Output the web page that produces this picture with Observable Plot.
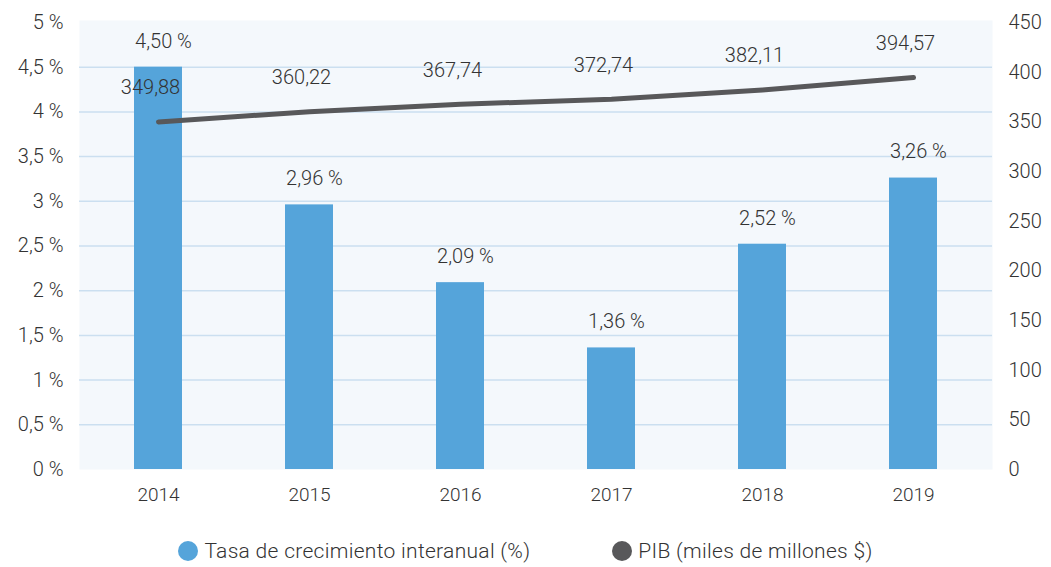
<!DOCTYPE html>
<html>
<head>
<meta charset="utf-8">
<script src="https://cdn.jsdelivr.net/npm/d3@7"></script>
<script src="https://cdn.jsdelivr.net/npm/@observablehq/plot@0.6"></script>
<style>
  body { margin: 0; background: #fff; font-family: Roboto, sans-serif; }
  #wrap { position: relative; width: 1051px; height: 520px; }
  #wrap svg { position: absolute; left: 0; top: 0; }
  #legend { width: 1051px; height: 47px; display: flex; justify-content: center; align-items: center; gap: 0; padding-top: 15px; box-sizing: border-box; font-size: 21px; letter-spacing: 0.3px; font-weight: 300; color: #333; }
  .item { display: flex; align-items: center; }
  .dot { width: 20px; height: 20px; border-radius: 50%; margin-right: 6px; }
</style>
</head>
<body>
<div id="wrap"></div>
<div id="legend"></div>
<script>
const years = ["2014", "2015", "2016", "2017", "2018", "2019"];
const growth = [4.50, 2.96, 2.09, 1.36, 2.52, 3.26];
const pib = [349.88, 360.22, 367.74, 372.74, 382.11, 394.57];
const leftTicks = [0, 0.5, 1, 1.5, 2, 2.5, 3, 3.5, 4, 4.5, 5];
const rightTicks = [0, 50, 100, 150, 200, 250, 300, 350, 400, 450];
const seriesNames = ["Tasa de crecimiento interanual (%)", "PIB (miles de millones $)"];
const colors = ["#55a4da", "#58585a"];

const rows = years.map((y, i) => ({year: y, growth: growth[i], pib: pib[i]}));
const fmtPct = d => d.toFixed(2).replace(".", ",") + " %";
const fmtTick = d => String(d).replace(".", ",") + " %";
const fmtPib = d => d.toFixed(2).replace(".", ",");

const W = 1051, H = 520;
const xScale = {domain: years, paddingInner: 0.68, paddingOuter: 0.34, insetLeft: 2, insetRight: 2};
const common = {
  width: W, height: H,
  marginLeft: 79, marginRight: 59, marginTop: 22, marginBottom: 51,
  style: {fontFamily: "Roboto, sans-serif", fontSize: "19px", fontWeight: 300, color: "#333", background: "transparent"}
};

const p1 = Plot.plot({
  ...common,
  x: {...xScale},
  y: {domain: [0, 5]},
  marks: [
    Plot.frame({fill: "#f4f8fc", stroke: null, insetTop: -2}),
    Plot.gridY(leftTicks.filter(t => t > 0 && t < 5), {stroke: "#cbdff0", strokeOpacity: 1, strokeWidth: 1.5}),
    Plot.barY(rows, {x: "year", y: "growth", fill: colors[0]}),
    Plot.text(rows, {x: "year", y: "growth", text: d => fmtPct(d.growth), dy: -26, dx: 5, fontSize: 20, fill: "#333"}),
    Plot.axisY(leftTicks, {anchor: "left", tickSize: 0, tickPadding: 16, tickFormat: fmtTick, fontSize: 20, label: null}),
    Plot.axisX({anchor: "bottom", tickSize: 0, tickPadding: 18, label: null, fontSize: 19})
  ]
});

const p2 = Plot.plot({
  ...common,
  x: {...xScale, axis: null},
  y: {domain: [0, 450]},
  marks: [
    Plot.line(rows, {x: "year", y: "pib", stroke: colors[1], strokeWidth: 5, strokeLinecap: "round", strokeLinejoin: "round"}),
    Plot.text(rows, {x: "year", y: "pib", text: d => fmtPib(d.pib), dy: -34, dx: -8, fontSize: 20, fill: "#333"}),
    Plot.axisY(rightTicks, {anchor: "right", tickSize: 0, tickPadding: 16, fontSize: 20, label: null})
  ]
});

document.getElementById("wrap").append(p1, p2);

const legend = document.getElementById("legend");
seriesNames.forEach((n, i) => {
  const it = document.createElement("div");
  it.className = "item";
  if (i > 0) it.style.marginLeft = "82px";
  const dot = document.createElement("span");
  dot.className = "dot";
  dot.style.background = colors[i];
  const t = document.createElement("span");
  t.textContent = n;
  it.append(dot, t);
  legend.append(it);
});
</script>
</body>
</html>
